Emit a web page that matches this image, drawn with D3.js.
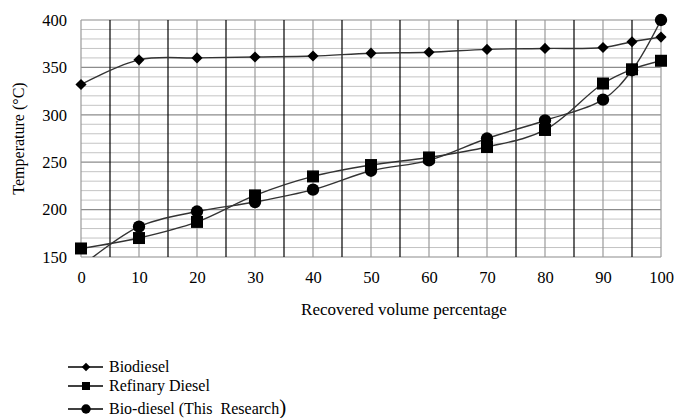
<!DOCTYPE html>
<html lang="en">
<head>
<meta charset="UTF-8">
<title>Distillation curves</title>
<script src="https://d3js.org/d3.v7.min.js"></script>
<style>
  body { margin: 0; background: #fff; }
  svg { display: block; font-family: "Liberation Serif", "Times New Roman", serif; }
</style>
</head>
<body>
<script>
  // recovered volume (%) and boiling temperatures (°C)
  let xValues = [0, 10, 20, 30, 40, 50, 60, 70, 80, 90, 95, 100];
  let biodiesel = [332, 358, 360, 361, 362, 365, 366, 369, 370, 371, 377, 382];
  let refinaryDiesel = [159, 170, 187, 215, 235, 247, 255, 266, 284, 333, 348, 357];
  let bioResearch = [140, 182, 198, 208, 221, 241, 252, 275, 294, 316, 347, 400];
  let xTicks = [0, 10, 20, 30, 40, 50, 60, 70, 80, 90, 100];
  let yTicks = [150, 200, 250, 300, 350, 400];

  let width = 675, height = 418;
  let plot = { left: 81, right: 661, top: 20, bottom: 257 };
  let serif = "'Liberation Serif', 'Times New Roman', serif";

  let svg = d3.select("body").append("svg")
              .attr("width", width)
              .attr("height", height);

  let x = d3.scaleLinear().domain([0, 100]).range([plot.left, plot.right]);
  let y = d3.scaleLinear().domain([150, 400]).range([plot.bottom, plot.top]);

  /* grid: light lines every 10 °C, darker every 50 */
  svg.append("g").selectAll("line")
     .data(d3.range(150, 401, 10))
     .join("line")
     .attr("x1", plot.left).attr("x2", plot.right)
     .attr("y1", d => y(d)).attr("y2", d => y(d))
     .attr("stroke", d => d % 50 === 0 ? "#8c8c8c" : "#c4c4c4")
     .attr("stroke-width", d => d % 50 === 0 ? 1.2 : 1);

  /* vertical: gray at tens, black at the odd fives */
  svg.append("g").selectAll("line")
     .data(d3.range(0, 101, 5))
     .join("line")
     .attr("x1", d => x(d)).attr("x2", d => x(d))
     .attr("y1", plot.top).attr("y2", plot.bottom)
     .attr("stroke", d => d % 10 === 5 ? "#000" : "#9a9a9a")
     .attr("stroke-width", 1.2);

  /* axes, text only */
  let yAxis = svg.append("g")
                 .attr("transform", `translate(${plot.left - 14},0)`)
                 .call(d3.axisLeft(y).tickValues(yTicks).tickSize(0).tickPadding(0));
  yAxis.select(".domain").remove();
  yAxis.attr("font-family", serif).attr("font-size", 16.5);
  yAxis.selectAll(".tick text").attr("dy", "0.32em").style("font-family", serif).attr("fill", "#000");

  let xAxis = svg.append("g")
                 .attr("transform", `translate(0,${plot.bottom + 26})`)
                 .call(d3.axisBottom(x).tickValues(xTicks).tickSize(0).tickPadding(0));
  xAxis.select(".domain").remove();
  xAxis.attr("font-family", serif).attr("font-size", 16.5);
  xAxis.selectAll(".tick text").attr("dy", "0").style("font-family", serif).attr("fill", "#000");

  svg.append("text")
     .attr("transform", `translate(24,${(plot.top + plot.bottom) / 2}) rotate(-90)`)
     .attr("text-anchor", "middle")
     .attr("font-size", 16)
     .text("Temperature (°C)");

  svg.append("text")
     .attr("x", 404).attr("y", 315)
     .attr("text-anchor", "middle")
     .attr("font-size", 17)
     .text("Recovered volume percentage");

  /* clip so the lines stay inside the plot */
  svg.append("clipPath").attr("id", "plotClip")
     .append("rect")
     .attr("x", plot.left).attr("y", plot.top)
     .attr("width", plot.right - plot.left)
     .attr("height", plot.bottom - plot.top);

  let line = d3.line()
               .x((d, i) => x(xValues[i]))
               .y(d => y(d))
               .curve(d3.curveCatmullRom.alpha(0.5));

  let series = [
    { name: "Biodiesel", values: biodiesel, symbol: d3.symbolSquare, size: 62, rotate: 45, legendSize: 36 },
    { name: "Refinary Diesel", values: refinaryDiesel, symbol: d3.symbolSquare, size: 144, rotate: 0, legendSize: 64 },
    { name: "Bio-diesel (This Research", values: bioResearch, symbol: d3.symbolCircle, size: 120, rotate: 0, legendSize: 70 }
  ];

  series.forEach(s => {
    svg.append("path")
       .attr("d", line(s.values))
       .attr("clip-path", "url(#plotClip)")
       .attr("fill", "none")
       .attr("stroke", "#333")
       .attr("stroke-width", 1.4);
  });

  series.forEach(s => {
    svg.append("g").selectAll("path")
       .data(s.values.map((v, i) => [xValues[i], v]).filter(d => d[1] >= 150))
       .join("path")
       .attr("d", d3.symbol().type(s.symbol).size(s.size))
       .attr("transform", d => `translate(${x(d[0])},${y(d[1])}) rotate(${s.rotate})`)
       .attr("fill", "#000");
  });

  /* legend */
  let legendY = [367, 386, 409];
  let legend = svg.append("g");
  series.forEach((s, i) => {
    let g = legend.append("g").attr("transform", `translate(0,${legendY[i]})`);
    g.append("line")
     .attr("x1", 68).attr("x2", 103)
     .attr("stroke", "#000").attr("stroke-width", 1.3);
    g.append("path")
     .attr("d", d3.symbol().type(s.symbol).size(s.legendSize))
     .attr("transform", `translate(86,0) rotate(${s.rotate})`)
     .attr("fill", "#000");
    let t = g.append("text")
             .attr("x", 109).attr("y", 5)
             .attr("font-size", 16)
             .style("white-space", "pre");
    if (i === 2) {
      t.append("tspan").text("Bio-diesel (This  Research");
      t.append("tspan").attr("font-size", 21).text(")");
    } else {
      t.text(s.name);
    }
  });
</script>
</body>
</html>
